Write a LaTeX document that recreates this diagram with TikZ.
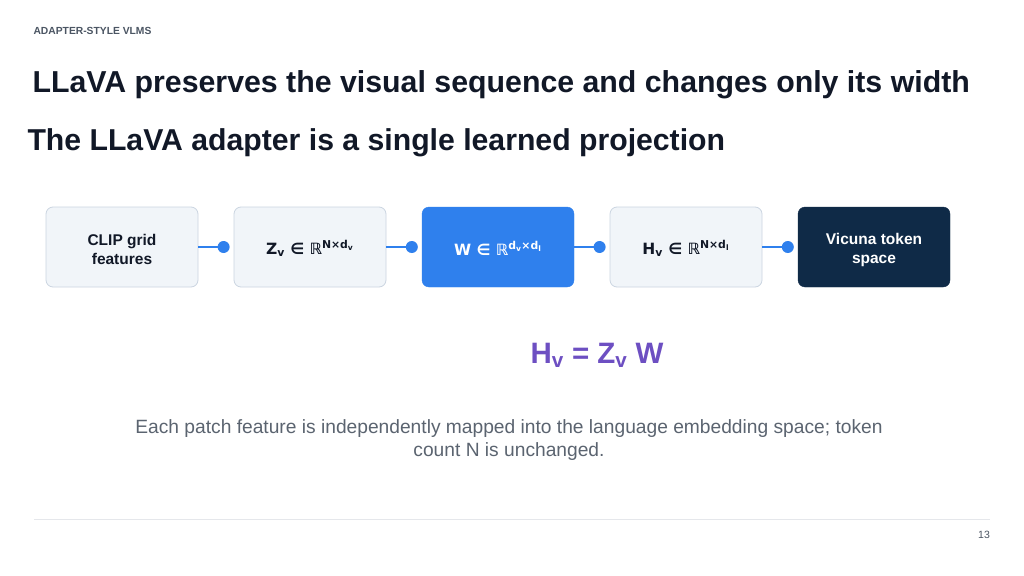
\documentclass[tikz,border=0pt]{standalone}
\usepackage{fontspec}
\setmainfont{Liberation Sans}
\newfontfamily\dejavu{DejaVu Sans}
\usetikzlibrary{calc}
\definecolor{titlec}{HTML}{111827}
\definecolor{headc}{HTML}{4B5563}
\definecolor{boxfill}{HTML}{F1F5F9}
\definecolor{boxline}{HTML}{CBD5E1}
\definecolor{blueacc}{HTML}{2F80ED}
\definecolor{navy}{HTML}{0F2A47}
\definecolor{purp}{HTML}{6D4FC2}
\definecolor{capc}{HTML}{5B6470}
\definecolor{rulec}{HTML}{E5E7EB}
\tikzset{
  stagebox/.style={rounded corners=7pt, minimum width=152pt, minimum height=80pt, inner sep=0pt},
  lightbox/.style={stagebox, fill=boxfill, draw=boxline, line width=0.8pt},
  bluebox/.style={stagebox, fill=blueacc, draw=blueacc},
  navybox/.style={stagebox, fill=navy, draw=navy},
  stagetext/.style={align=center, font=\bfseries\fontsize{15.5}{19}\selectfont, text=titlec, inner sep=0pt},
  dotnode/.style={circle, fill=blueacc, minimum size=12pt, inner sep=0pt},
  link/.style={draw=blueacc, line width=2.5pt},
}
\newcommand{\mth}[1]{{\dejavu\bfseries #1}}
\begin{document}
\begin{tikzpicture}[x=1pt,y=-1pt]
\useasboundingbox[fill=white] (0,0) rectangle (1024,575);
\node[anchor=west, text=headc, font=\bfseries\fontsize{10.3}{12}\selectfont] (hdr) at (30,31) {ADAPTER-STYLE VLMS};
\node[anchor=west, text=titlec, font=\bfseries\fontsize{30.3}{34}\selectfont] (t1) at (29,85) {LLaVA preserves the visual sequence and changes only its width};
\node[anchor=west, text=titlec, font=\bfseries\fontsize{30.2}{34}\selectfont] (t2) at (24,143) {The LLaVA adapter is a single learned projection};

\node[lightbox] (b1) at (122,247) {};
\node[lightbox] (b2) at (310,247) {};
\node[bluebox] (b3) at (498,247) {};
\node[lightbox] (b4) at (686,247) {};
\node[navybox] (b5) at (874,247) {};

\node[stagetext] (b1t) at ($(b1.center)+(0,2.5)$) {CLIP grid\\features};
\node[stagetext] (b2t) at ($(b2.center)+(0,1.5)$) {\mth{Z\textsubscript{v} ∈ ℝ\textsuperscript{N×d\textsubscript{v}}}};
\node[stagetext, text=white] (b3t) at ($(b3.center)+(0,1.5)$) {\mth{W ∈ ℝ\textsuperscript{d\textsubscript{v}×d\textsubscript{l}}}};
\node[stagetext] (b4t) at ($(b4.center)+(0,1.5)$) {\mth{H\textsubscript{v} ∈ ℝ\textsuperscript{N×d\textsubscript{l}}}};
\node[stagetext, text=white] (b5t) at ($(b5.center)+(0,2.5)$) {Vicuna token\\space};

\foreach \a/\b in {b1/b2,b2/b3,b3/b4,b4/b5}{
  \node[dotnode] (d\b) at ($(\b.west)+(-10,0)$) {};
  \draw[link] (\a.east) -- (d\b.center);
}

\node[text=purp, font=\bfseries\fontsize{29.5}{32}\selectfont] (eq) at (597,355) {H\textsubscript{v} = Z\textsubscript{v} W};

\node[text=capc, align=center, font=\fontsize{19.2}{23.5}\selectfont] (cap) at (509,440) {Each patch feature is independently mapped into the language embedding space; token\\count N is unchanged.};

\coordinate (rl) at (34,519);
\coordinate (rr) at (990,519);
\draw[rulec, line width=1pt] (rl) -- (rr);
\node[text=headc, font=\fontsize{10.5}{12}\selectfont] (pg) at (984,535) {13};
\end{tikzpicture}
\end{document}
